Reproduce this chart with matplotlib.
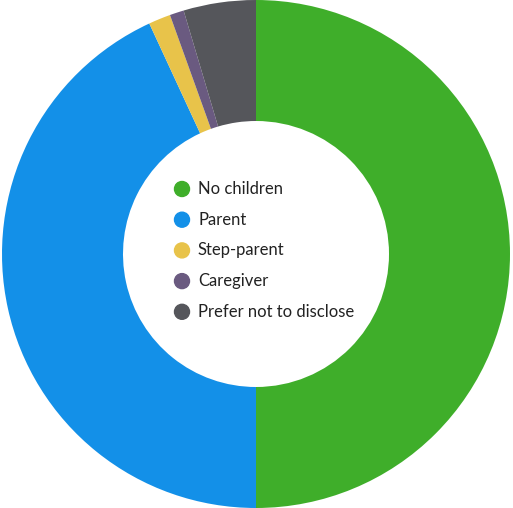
import matplotlib
matplotlib.use("Agg")
import matplotlib.pyplot as plt

categories = ["No children", "Parent", "Step-parent", "Caregiver", "Prefer not to disclose"]
values = [50.0, 43.1, 1.4, 0.9, 4.6]
colors = ["#3FAE2A", "#1390E8", "#E8C34A", "#6A5A80", "#55565B"]

W, H = 513, 508
fig = plt.figure(figsize=(W / 100, H / 100), dpi=100)
ax = fig.add_axes([0, 0, 1, 1])
R = 254.0
cx, cy = 256.0, 254.0

ax.pie(values, colors=colors, startangle=90, counterclock=False, radius=1.0,
       wedgeprops=dict(width=1 - 133 / R, linewidth=0))
ax.set_xlim(-cx / R, (W - cx) / R)
ax.set_ylim(-cy / R, (H - cy) / R)
ax.set_aspect("equal")
ax.axis("off")

# legend in the hole
y0 = 189
dy = 30.7
for i, (lab, col) in enumerate(zip(categories, colors)):
    ypx = y0 + i * dy
    fy = 1 - ypx / H
    fig.patches.append(matplotlib.patches.Ellipse((182 / W, fy), 15 / W, 15 / H, transform=fig.transFigure,
                                                  color=col, figure=fig))
    fig.text(198 / W, fy, lab, fontsize=12.0, family=["Lato", "DejaVu Sans"], color="#222222",
             va="center", ha="left")

fig.savefig("out.png", dpi=100)
